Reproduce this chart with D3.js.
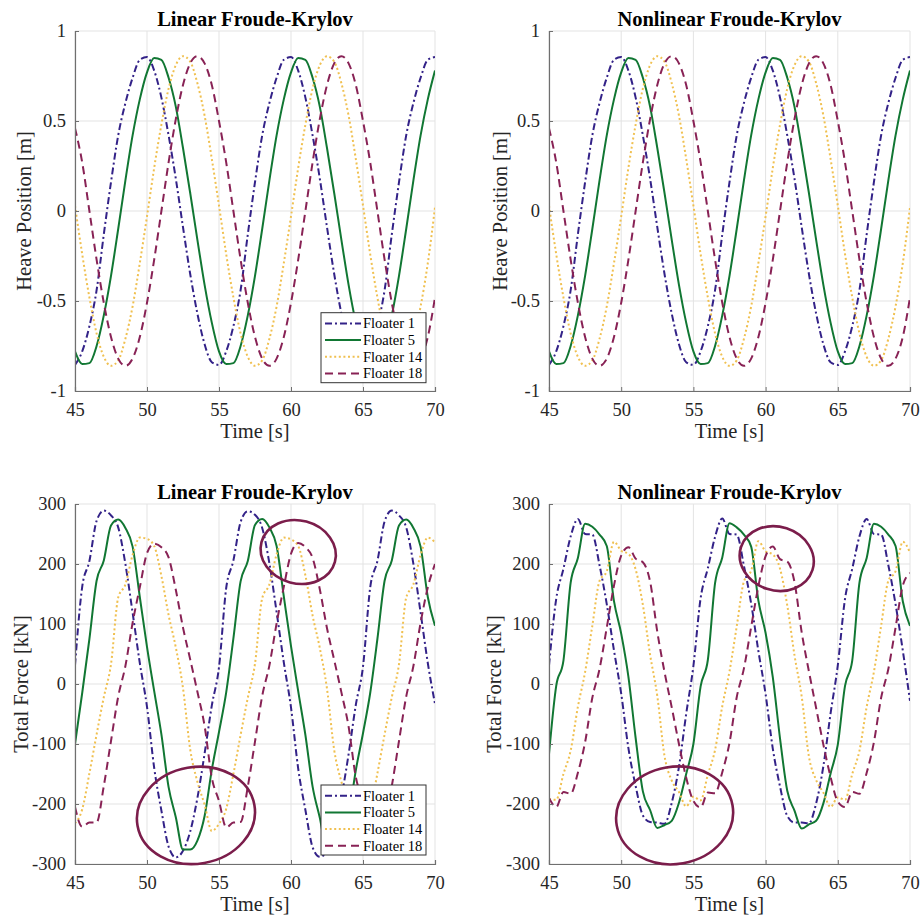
<!DOCTYPE html>
<html><head><meta charset="utf-8">
<script src="https://cdn.jsdelivr.net/npm/d3@7"></script>
<style>body{margin:0;background:#fff} svg{display:block}</style>
</head><body><svg id="chart" width="921" height="922"></svg>
<script>
// ---------------- data ----------------
const time = d3.range(45, 70.001, 0.5);
const floaterNames = ["Floater 1", "Floater 5", "Floater 14", "Floater 18"];
const xTicks = [45, 50, 55, 60, 65, 70];
const heaveTicks = [-1, -0.5, 0, 0.5, 1];
const forceTicks = [-300, -200, -100, 0, 100, 200, 300];
const panelTitles = ["Linear Froude-Krylov", "Nonlinear Froude-Krylov"];

// Heave position [m]
const heaveF1 = [-0.855,-0.78,-0.64,-0.44,-0.13,0.16,0.42,0.60,0.74,0.84,
  0.855,0.78,0.63,0.42,0.18,-0.09,-0.35,-0.57,-0.74,-0.84,
  -0.855,-0.78,-0.64,-0.44,-0.13,0.16,0.42,0.60,0.74,0.84,
  0.855,0.78,0.63,0.42,0.18,-0.09,-0.35,-0.57,-0.74,-0.84,
  -0.855,-0.78,-0.64,-0.44,-0.13,0.16,0.42,0.60,0.74,0.84,
  0.855];
const heaveF5 = [-0.78,-0.85,-0.845,-0.75,-0.58,-0.36,-0.10,0.17,0.42,0.62,
  0.77,0.85,0.84,0.74,0.58,0.35,0.10,-0.16,-0.41,-0.62,
  -0.78,-0.85,-0.845,-0.75,-0.58,-0.36,-0.10,0.17,0.42,0.62,
  0.77,0.85,0.84,0.74,0.58,0.35,0.10,-0.16,-0.41,-0.62,
  -0.78,-0.85,-0.845,-0.75,-0.58,-0.36,-0.10,0.17,0.42,0.62,
  0.78];
const heaveF14 = [0.03,-0.24,-0.48,-0.68,-0.81,-0.86,-0.83,-0.71,-0.53,-0.29,
  -0.03,0.24,0.48,0.68,0.81,0.86,0.83,0.71,0.53,0.29,
  0.03,-0.24,-0.48,-0.68,-0.81,-0.86,-0.83,-0.71,-0.53,-0.29,
  -0.03,0.24,0.48,0.68,0.81,0.86,0.83,0.71,0.53,0.29,
  0.03,-0.24,-0.48,-0.68,-0.81,-0.86,-0.83,-0.71,-0.53,-0.29,
  0.02];
const heaveF18 = [0.46,0.27,0.0,-0.27,-0.51,-0.70,-0.82,-0.86,-0.82,-0.70,
  -0.51,-0.27,0.0,0.27,0.51,0.70,0.82,0.86,0.82,0.70,
  0.50,0.27,0.0,-0.27,-0.51,-0.70,-0.82,-0.86,-0.82,-0.70,
  -0.51,-0.27,0.0,0.27,0.51,0.70,0.82,0.86,0.82,0.70,
  0.50,0.27,0.0,-0.27,-0.51,-0.70,-0.82,-0.86,-0.82,-0.70,
  -0.48];

// Total force [kN], linear Froude-Krylov
const forceLinF1 = [31,162,205,272,289,281,261,200,119,35,
  -38,-140,-211,-271,-289,-278,-246,-190,-116,-36,
  28,160,206,270,288,282,260,201,120,36,
  -39,-141,-210,-272,-288,-279,-247,-189,-117,-35,
  29,161,205,271,289,281,261,200,119,35,
  -33];
const forceLinF5 = [-100,-15,75,172,206,264,274,260,229,145,
  62,-12,-84,-172,-222,-276,-276,-261,-220,-143,
  -80,-14,76,171,205,265,275,261,230,146,
  63,-12,-85,-171,-223,-277,-277,-262,-221,-144,
  -82,-15,75,172,206,264,274,260,229,145,
  97];
const forceLinF14 = [-232,-209,-149,-84,-22,33,144,166,215,244,
  242,230,180,115,61,-7,-109,-163,-201,-245,
  -233,-208,-150,-85,-23,34,143,166,216,244,
  241,230,181,114,60,-8,-110,-163,-200,-245,
  -232,-209,-149,-84,-22,33,144,166,215,244,
  236];
const forceLinF18 = [-205,-238,-231,-231,-170,-95,-21,30,102,161,
  218,234,228,211,157,94,41,-13,-70,-156,
  -195,-239,-231,-230,-171,-96,-20,31,101,162,
  217,235,228,210,158,93,40,-14,-71,-155,
  -195,-238,-231,-231,-170,-95,-21,30,102,161,
  200];

// Total force [kN], nonlinear Froude-Krylov
const forceNlF1 = [31,142,192,246,275,250,249,198,133,56,
  -16,-107,-170,-219,-230,-231,-233,-198,-138,-50,
  30,143,193,245,276,250,249,197,134,55,
  -17,-108,-171,-220,-231,-231,-232,-199,-137,-49,
  31,142,192,246,275,250,249,198,133,56,
  -28];
const forceNlF5 = [-117,-3,39,169,210,267,262,249,230,138,
  84,12,-90,-179,-210,-240,-235,-228,-198,-150,
  -100,-4,40,168,211,268,261,249,229,139,
  85,11,-91,-178,-211,-241,-234,-228,-199,-149,
  -101,-3,39,169,210,267,262,249,230,138,
  97];
const forceNlF14 = [-192,-193,-150,-111,-38,20,97,172,188,237,
  222,217,191,132,49,-20,-120,-161,-180,-204,
  -188,-194,-151,-110,-37,21,96,171,189,238,
  221,216,192,131,48,-21,-121,-160,-181,-205,
  -189,-193,-150,-111,-38,20,97,172,188,237,
  219];
const forceNlF18 = [-190,-205,-180,-183,-148,-97,-23,25,94,164,
  214,228,209,203,171,87,20,-39,-100,-156,
  -195,-206,-181,-182,-147,-98,-22,26,95,163,
  213,229,208,204,170,86,21,-40,-101,-155,
  -196,-205,-180,-183,-148,-97,-23,25,94,164,
  185];

// annotation ellipses (centre time, centre force, half-width [s], half-height [kN], tilt [deg])
const circlesLinear = [[60.5, 220, 2.64, 52.5, 15], [53.4, -219, 4.12, 80.5, -10]];
const circlesNonlinear = [[60.77, 209, 2.6, 53, 18], [53.7, -219, 4.07, 81, -10]];

// ---------------- styles / layout ----------------
const colors = ["#332288", "#117733", "#F0C050", "#882255"];
const dashes = ["7,3,2,3", null, "2,2.6", "8,5"];
const serif = "'Liberation Serif', 'Times New Roman', serif";

const panels = [
  {x0: 75, x1: 435, y0: 31, y1: 391, dom: [-1, 1], ticks: heaveTicks, title: panelTitles[0],
   ylab: "Heave Position [m]", ylabX: 31, series: [heaveF1, heaveF5, heaveF14, heaveF18],
   legend: [321, 312.7], titleY: 26, circles: []},
  {x0: 549, x1: 910, y0: 31, y1: 391, dom: [-1, 1], ticks: heaveTicks, title: panelTitles[1],
   ylab: "Heave Position [m]", ylabX: 507, series: [heaveF1, heaveF5, heaveF14, heaveF18],
   legend: null, titleY: 26, circles: []},
  {x0: 75, x1: 435, y0: 504, y1: 864, dom: [-300, 300], ticks: forceTicks, title: panelTitles[0],
   ylab: "Total Force [kN]", ylabX: 28, series: [forceLinF1, forceLinF5, forceLinF14, forceLinF18],
   legend: [321, 785], titleY: 499, circles: circlesLinear},
  {x0: 549, x1: 910, y0: 504, y1: 864, dom: [-300, 300], ticks: forceTicks, title: panelTitles[1],
   ylab: "Total Force [kN]", ylabX: 501, series: [forceNlF1, forceNlF5, forceNlF14, forceNlF18],
   legend: null, titleY: 499, circles: circlesNonlinear}
];

const svg = d3.select("#chart");
svg.append("rect").attr("width", 921).attr("height", 922).attr("fill", "#fff");

panels.forEach((p, pi) => {
  const x = d3.scaleLinear().domain([45, 70]).range([p.x0, p.x1]);
  const y = d3.scaleLinear().domain(p.dom).range([p.y1, p.y0]);
  const g = svg.append("g");

  // grid
  g.append("g").selectAll("line").data(xTicks).join("line")
    .attr("x1", d => x(d)).attr("x2", d => x(d)).attr("y1", p.y0).attr("y2", p.y1)
    .attr("stroke", "#e3e3e3").attr("stroke-width", 1);
  g.append("g").selectAll("line").data(p.ticks).join("line")
    .attr("x1", p.x0).attr("x2", p.x1).attr("y1", d => y(d)).attr("y2", d => y(d))
    .attr("stroke", "#e3e3e3").attr("stroke-width", 1);

  // curves
  const clipId = "clip" + pi;
  svg.append("clipPath").attr("id", clipId).append("rect")
    .attr("x", p.x0).attr("y", p.y0 - 2).attr("width", p.x1 - p.x0).attr("height", p.y1 - p.y0 + 4);
  const line = d3.line().x((d, i) => x(time[i])).y(d => y(d)).curve(d3.curveMonotoneX);
  const lg = g.append("g").attr("clip-path", `url(#${clipId})`);
  p.series.forEach((s, si) => {
    lg.append("path").attr("d", line(s)).attr("fill", "none")
      .attr("stroke", colors[si]).attr("stroke-width", 2)
      .attr("stroke-dasharray", dashes[si]).attr("stroke-linejoin", "round");
  });

  // axes (left and bottom)
  const xAxis = d3.axisBottom(x).tickValues(xTicks).tickSize(-4).tickPadding(12).tickFormat(d3.format("d"));
  const ax = g.append("g").attr("transform", `translate(0,${p.y1})`).call(xAxis);
  const yAxis = d3.axisLeft(y).tickValues(p.ticks).tickSize(-4).tickPadding(9).tickFormat(d => String(d));
  const ay = g.append("g").attr("transform", `translate(${p.x0},0)`).call(yAxis);
  [ax, ay].forEach(a => {
    a.select(".domain").attr("stroke", "#6f6f6f").attr("stroke-width", 1.2);
    a.selectAll(".tick line").attr("stroke", "#6f6f6f");
    a.selectAll("text").attr("font-family", serif).attr("font-size", 18.5).attr("fill", "#262626");
  });
  ax.selectAll("text").attr("dy", "0.71em");

  // title and labels
  g.append("text").attr("x", (p.x0 + p.x1) / 2).attr("y", p.titleY).attr("text-anchor", "middle")
    .attr("font-family", serif).attr("font-weight", "bold").attr("font-size", 20.5).attr("fill", "#000")
    .text(p.title);
  g.append("text").attr("x", (p.x0 + p.x1) / 2).attr("y", p.y1 + 47).attr("text-anchor", "middle")
    .attr("font-family", serif).attr("font-size", 20.5).attr("fill", "#262626").text("Time [s]");
  g.append("text").attr("transform", `translate(${p.ylabX},${(p.y0 + p.y1) / 2}) rotate(-90)`)
    .attr("text-anchor", "middle").attr("font-family", serif).attr("font-size", 20.5)
    .attr("fill", "#262626").text(p.ylab);

  // legend
  if (p.legend) {
    const [lx, ly] = p.legend;
    const lgd = g.append("g").attr("transform", `translate(${lx},${ly})`);
    lgd.append("rect").attr("width", 105).attr("height", 70).attr("fill", "#fff")
      .attr("stroke", "#333").attr("stroke-width", 1);
    floaterNames.forEach((n, i) => {
      const cy = 10.7 + i * 16.7;
      lgd.append("line").attr("x1", 4).attr("x2", 40).attr("y1", cy).attr("y2", cy)
        .attr("stroke", colors[i]).attr("stroke-width", 2).attr("stroke-dasharray", dashes[i]);
      lgd.append("text").attr("x", 42).attr("y", cy + 5).attr("font-family", serif)
        .attr("font-size", 14.5).attr("fill", "#000").text(n);
    });
  }

  // annotation ellipses
  p.circles.forEach(c => {
    const [ct, cf, rt, rf, ang] = c;
    const pxT = x(45 + rt) - x(45);
    const pxF = y(0) - y(rf);
    svg.append("ellipse").attr("transform", `translate(${x(ct)},${y(cf)}) rotate(${ang})`)
      .attr("rx", pxT).attr("ry", pxF).attr("fill", "none")
      .attr("stroke", "#7b1d4b").attr("stroke-width", 2.6);
  });
});
</script></body></html>
